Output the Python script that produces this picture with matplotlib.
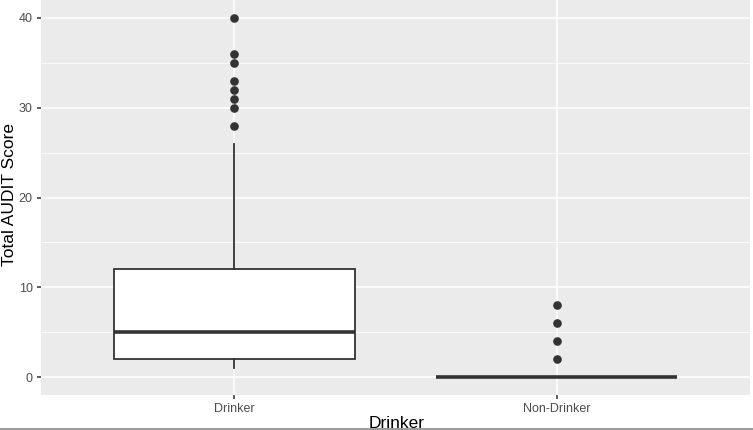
import matplotlib
matplotlib.use("Agg")
import matplotlib.pyplot as plt
from matplotlib.ticker import MultipleLocator

plt.rcParams['font.family'] = ['Liberation Sans', 'DejaVu Sans']

categories = ["Drinker", "Non-Drinker"]
whisker_low = [1, 0]
q1 = [2, 0]
median = [5, 0]
q3 = [12, 0]
whisker_high = [26, 0]
outliers = [[28, 30, 31, 32, 33, 35, 36, 40], [2, 4, 6, 8]]
y_ticks = [0, 10, 20, 30, 40]

W, H = 753, 430
fig = plt.figure(figsize=(W / 100, H / 100), dpi=100)
ax = fig.add_axes([41 / W, (H - 395) / H, (750 - 41) / W, 395 / H])
ax.set_facecolor("#EBEBEB")

stats = []
for i, c in enumerate(categories):
    stats.append(dict(label=c, whislo=whisker_low[i], q1=q1[i], med=median[i],
                      q3=q3[i], whishi=whisker_high[i], fliers=outliers[i]))

pos = list(range(1, len(categories) + 1))
ax.bxp(stats, positions=pos, widths=0.75, patch_artist=True, showcaps=False,
       boxprops=dict(facecolor="white", edgecolor="#333333", linewidth=1.3),
       medianprops=dict(color="#333333", linewidth=2.6, solid_capstyle="butt"),
       whiskerprops=dict(color="#333333", linewidth=1.3),
       flierprops=dict(marker="o", markersize=5.2, markerfacecolor="#333333",
                       markeredgecolor="#333333"),
       zorder=3)

ax.set_xlim(0.4, 2.6)
ax.set_ylim(-2, 42)
ax.set_yticks(y_ticks)
ax.yaxis.set_minor_locator(MultipleLocator(5))
ax.set_xticks(pos)
ax.set_xticklabels(categories)

ax.grid(which="major", color="white", linewidth=1.1, zorder=0)
ax.grid(which="minor", axis="y", color="white", linewidth=0.55, zorder=0)
ax.set_axisbelow(True)
for s in ax.spines.values():
    s.set_visible(False)

ax.tick_params(which="major", length=3, width=1.1, color="#333333",
               labelcolor="#4D4D4D", labelsize=9, pad=3)
ax.tick_params(which="minor", length=0)

fig.text(10 / W, 1 - 194 / H, "Total AUDIT Score", rotation=90, fontsize=12.5,
         ha="center", va="center", color="black")
fig.text(397 / W, 1 - 424 / H, "Drinker", fontsize=12.5, ha="center",
         va="center", color="black")

fig.add_artist(plt.Line2D([0, 1], [1 - 428.5 / H, 1 - 428.5 / H],
                          color="#8A8A8A", linewidth=1.2))
fig.add_artist(plt.Rectangle((0, 0), 1, 1 - 429 / H, facecolor="white",
                             edgecolor="none", transform=fig.transFigure))

fig.savefig("out.png", dpi=100)
